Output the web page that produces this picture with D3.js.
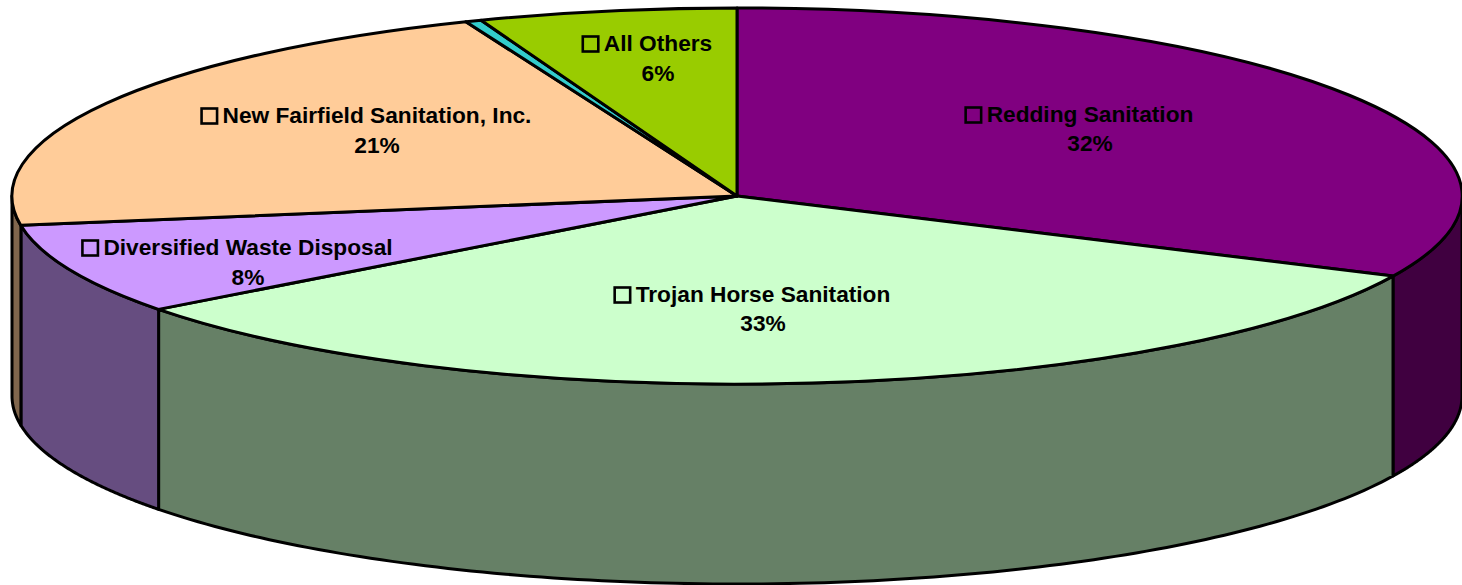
<!DOCTYPE html>
<html>
<head>
<meta charset="utf-8">
<script src="https://d3js.org/d3.v7.min.js"></script>
<style>
html,body{margin:0;padding:0;background:#fff;overflow:hidden}
text{font-family:"Liberation Sans",Arial,sans-serif;font-weight:bold;font-size:22.7px;fill:#000}
</style>
</head>
<body>
<svg id="chart" width="1462" height="585"></svg>
<script>
const categories = ["Redding Sanitation","Trojan Horse Sanitation","Diversified Waste Disposal","New Fairfield Sanitation, Inc.","","All Others"];
const shares = [32.0,32.7,7.8,21.4,0.35,5.75];
const printedPercent = ["32%","33%","8%","21%","","6%"];
const topColors = ["#800080","#CCFFCC","#CC99FF","#FFCC99","#33CCCC","#99CC00"];
const wallColors = ["#400040","#668066","#664D80","#80664D","#1A6666","#4D6600"];

// layout, separate from the data
const cx = 737, cy = 196, rx = 725, ry = 188, depth = 200;
const labelCentres = [[1090,122],[763,302],[248,255],[377,123],null,[658,51]];
const percentGaps = [29,29,30,30,0,30];

const svg = d3.select("#chart");
const sx = d3.scaleLinear().domain([-1,1]).range([cx-rx,cx+rx]);
const sy = d3.scaleLinear().domain([-1,1]).range([cy-ry,cy+ry]);

const arcs = d3.pie().sort(null).value(d=>d)(shares);
const rimPoint = a => [sx(Math.sin(a)), sy(-Math.cos(a))];

// side walls: only the part of each slice that faces the viewer
const frontStart = Math.PI/2, frontEnd = 3*Math.PI/2;
const line = d3.line();
arcs.forEach((d,i)=>{
  const a0 = Math.max(d.startAngle,frontStart), a1 = Math.min(d.endAngle,frontEnd);
  if(a1<=a0) return;
  const steps = d3.range(0,121).map(k=>a0+(a1-a0)*k/120);
  const upper = steps.map(rimPoint);
  const lower = steps.slice().reverse().map(a=>{const p=rimPoint(a);return [p[0],p[1]+depth];});
  svg.append("path")
    .attr("d",line(upper.concat(lower))+"Z")
    .attr("fill",wallColors[i])
    .attr("stroke","#000").attr("stroke-width",3).attr("stroke-linejoin","round");
});

// top face
const arc = d3.arc().innerRadius(0).outerRadius(1);
svg.append("g")
  .attr("transform",`translate(${cx},${cy}) scale(${rx},${ry})`)
  .selectAll("path").data(arcs).join("path")
  .attr("d",arc)
  .attr("fill",(d,i)=>topColors[i])
  .attr("stroke","#000")
  .attr("stroke-width",3)
  .attr("stroke-linejoin","round")
  .attr("vector-effect","non-scaling-stroke");

// labels
categories.forEach((name,i)=>{
  const c = labelCentres[i];
  if(!name||!c) return;
  const t = svg.append("text").attr("x",c[0]).attr("y",c[1]).attr("text-anchor","middle").text(name);
  const w = t.node().getComputedTextLength();
  svg.append("text").attr("x",c[0]).attr("y",c[1]+percentGaps[i]).attr("text-anchor","middle").text(printedPercent[i]);
  svg.append("rect")
    .attr("x",c[0]-w/2-21).attr("y",c[1]-14.5)
    .attr("width",15.5).attr("height",15)
    .attr("fill","none").attr("stroke","#000").attr("stroke-width",2.6);
});
</script>
</body>
</html>
